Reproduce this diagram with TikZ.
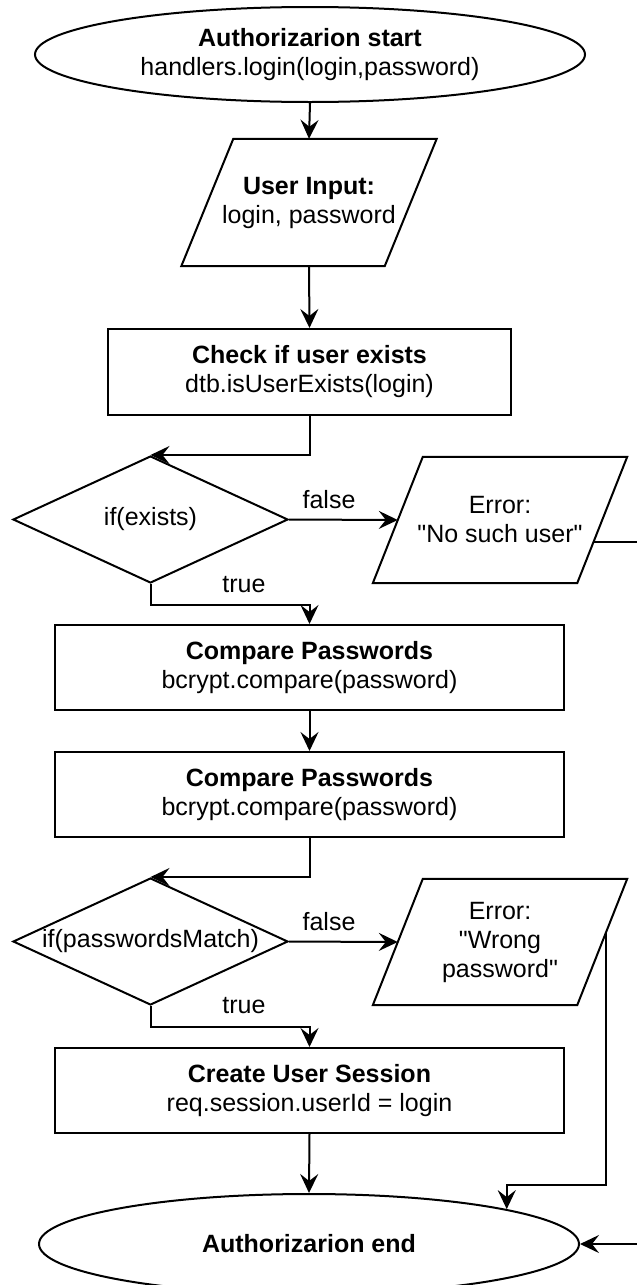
\documentclass[tikz,border=0pt]{standalone}
\usepackage{fontspec}
\setmainfont{Liberation Sans}[Ligatures=TeXOff]
\usetikzlibrary{shapes.geometric,arrows.meta,calc}
\begin{document}
\begin{tikzpicture}[x=1pt,y=-1pt,
  every node/.style={font=\fontsize{25}{29}\selectfont, align=center, inner sep=0pt},
  ln/.style={line width=2pt},
  arr/.style={ln, -{Stealth[length=19pt,width=18pt,inset=7pt]}},
  termin/.style={ellipse, draw, line width=2pt, fill=white},
  procbox/.style={rectangle, draw, line width=2pt},
  decide/.style={diamond, draw, line width=2pt, minimum width=275pt, minimum height=127pt},
  ioframe/.style={rectangle, minimum height=126pt},
  lbl/.style={}
]
\path[use as bounding box] (0,0) rectangle (637,1285);
\fill[white] (0,0) rectangle (637,1285);

% nodes
\node[termin, minimum width=550pt, minimum height=95pt] (start) at (310,54.5)
  {\textbf{Authorizarion start}\\handlers.login(login,password)};
\node[ioframe, minimum width=203pt, minimum height=127pt] (in) at (309,202.5)
  {\textbf{User Input:}\\login, password};
\draw[ln] ([xshift=26pt]in.north west) -- ([xshift=26pt]in.north east)
  -- ([xshift=-26pt]in.south east) -- ([xshift=-26pt]in.south west) -- cycle;

\node[procbox, minimum width=403pt, minimum height=86pt] (chk) at (309.5,372)
  {\textbf{Check if user exists}\\dtb.isUserExists(login)};

\node[decide] (d1) at (150.5,519.5) {\makebox[0pt]{if(exists)}};
\node[ioframe, minimum width=204pt] (e1) at (500,520)
  {Error:\\"No such user"};
\draw[ln] ([xshift=25pt]e1.north west) -- ([xshift=25pt]e1.north east)
  -- ([xshift=-25pt]e1.south east) -- ([xshift=-25pt]e1.south west) -- cycle;

\node[procbox, minimum width=509pt, minimum height=85pt] (cmp1) at (309.5,667.5)
  {\textbf{Compare Passwords}\\bcrypt.compare(password)};
\node[procbox, minimum width=509pt, minimum height=85pt] (cmp2) at (309.5,794.5)
  {\textbf{Compare Passwords}\\bcrypt.compare(password)};

\node[decide] (d2) at (150.5,941.5) {\makebox[0pt]{if(passwordsMatch)}};
\node[ioframe, minimum width=204pt] (e2) at (500,942)
  {Error:\\"Wrong\\password"};
\draw[ln] ([xshift=25pt]e2.north west) -- ([xshift=25pt]e2.north east)
  -- ([xshift=-25pt]e2.south east) -- ([xshift=-25pt]e2.south west) -- cycle;

\node[procbox, minimum width=509pt, minimum height=85pt] (sess) at (309.5,1090.5)
  {\textbf{Create User Session}\\req.session.userId = login};

\node[termin, minimum width=540pt, minimum height=100pt] (end) at (309,1244)
  {\textbf{Authorizarion end}};

% labels
\node[lbl] (f1) at (329,500) {false};
\node[lbl] (t1) at (244,585) {true};
\node[lbl] (f2) at (329,922) {false};
\node[lbl] (t2) at (244,1006) {true};

% exit points on slanted edges
\coordinate (e1x) at ($(e1.east)+(-8.6,22)$);
\coordinate (e2x) at ($(e2.east)+(3.5,-9)$);

% connectors
\draw[arr] (start.south) -- (in.north);
\draw[arr] (in.south) -- (chk.north);
\draw[arr] (chk.south) |- (d1.north);
\draw[arr] (d1.east) -- (e1.west);
\draw[arr] (d1.south) -- ++(0,21) -| (cmp1.north);
\draw[arr] (cmp1.south) -- (cmp2.north);
\draw[arr] (cmp2.south) |- (d2.north);
\draw[arr] (d2.east) -- (e2.west);
\draw[arr] (d2.south) -- ++(0,21) -| (sess.north);
\draw[arr] (sess.south) -- (end.north);
\draw[arr] (e2x) -- ++(0,252) -| (end.10.6);
\draw[arr] (e1x) -- ++(60,0) |- (end.east);
\end{tikzpicture}
\end{document}
